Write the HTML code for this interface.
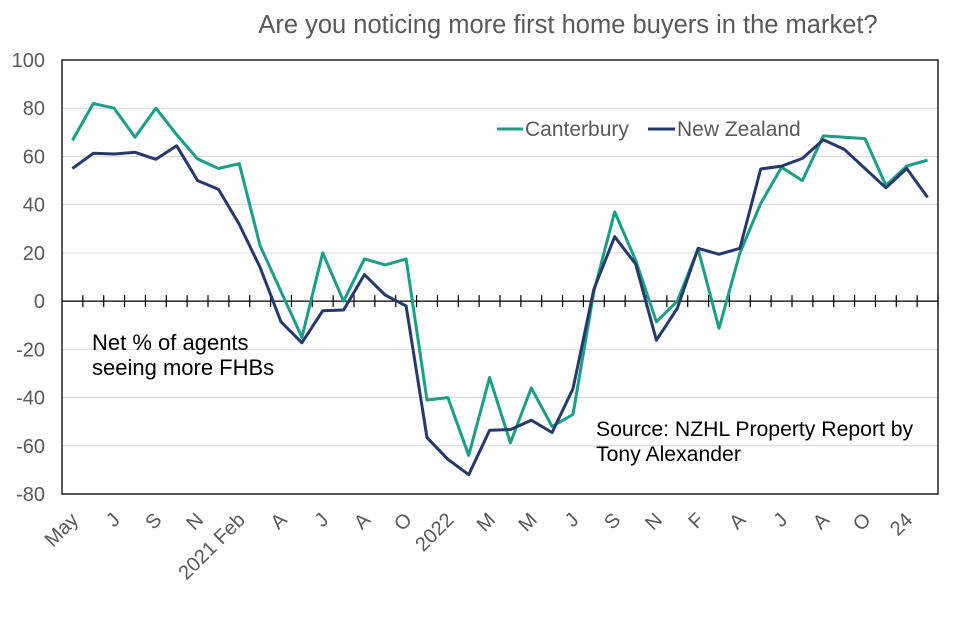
<!DOCTYPE html>
<html><head><meta charset="utf-8"><style>
body{margin:0;background:#fff;}
svg{display:block;font-family:"Liberation Sans",Arial,sans-serif;}
</style></head><body>
<svg id="chart" width="976" height="637">
<text x="568" y="33" text-anchor="middle" font-size="25.5" fill="#595959">Are you noticing more first home buyers in the market?</text>
<g id="grid"></g><g id="axes"></g><g id="series"></g>
<g>
<line x1="497" y1="129" x2="523" y2="129" stroke="#1a9e86" stroke-width="3"/>
<text x="525" y="136" font-size="21" fill="#595959">Canterbury</text>
<line x1="648" y1="129" x2="675" y2="129" stroke="#253a6b" stroke-width="3"/>
<text x="677" y="136" font-size="21" fill="#595959">New Zealand</text>
</g>
<text font-size="22" fill="#000"><tspan x="92" y="350">Net % of agents</tspan><tspan x="92" y="375">seeing more FHBs</tspan></text>
<text font-size="21.2" fill="#000"><tspan x="596" y="436">Source: NZHL Property Report by</tspan><tspan x="596" y="461">Tony Alexander</tspan></text>
</svg>
<script>
const categories = ["May","Jun","J","Aug","S","Oct","N","Dec","2021 Feb","Mar","A","May","J","Jul","A","Sep","O","Nov","2022","Feb","M","Apr","M","Jun","J","Aug","S","Oct","N","Dec","F","Mar","A","May","J","Jul","A","Sep","O","Nov","24","Feb"];
const tickLabels = ["May","","J","","S","","N","","2021 Feb","","A","","J","","A","","O","","2022","","M","","M","","J","","S","","N","","F","","A","","J","","A","","O","","24",""];
const canterbury = [66.6,82,80,68,80,69,59,55,57,23,4,-15,20,0,17.5,15,17.5,-41,-40,-64,-31.7,-58.8,-36,-52,-47,4,37,17,-8.6,0,21.6,-11.3,20,40.5,55.5,50,68.5,68,67.4,48,56,58.5];
const newZealand = [55,61.3,61,61.7,58.8,64.4,50,46.4,31.8,14,-8.6,-17.3,-4,-3.7,11,2.5,-2,-56.6,-65.6,-72,-53.6,-53.3,-49.4,-54.5,-36.3,5,26.7,15.4,-16.2,-3,21.9,19.4,21.9,54.8,56,59.2,66.9,63,55,47,55,43];
const yTicks = [100,80,60,40,20,0,-20,-40,-60,-80];

const NS="http://www.w3.org/2000/svg";
const L=62,R=938,T=60,B=494,yMin=-80,yMax=100;
const bw=(R-L)/categories.length;
const xPos=i=>L+bw*(i+0.5);
const yPos=v=>T+(yMax-v)/(yMax-yMin)*(B-T);
function mk(tag,attrs,parent){const e=document.createElementNS(NS,tag);for(const k in attrs)e.setAttribute(k,attrs[k]);parent.appendChild(e);return e;}
const grid=document.getElementById('grid'),axes=document.getElementById('axes'),ser=document.getElementById('series');
yTicks.forEach(v=>{
  const g=mk('line',{x1:L,x2:R,y1:yPos(v),y2:yPos(v),stroke:'#d9d9d9','stroke-width':1},grid);
  
  
  const t=mk('text',{x:45,y:yPos(v)+7,'text-anchor':'end','font-size':20,fill:'#595959'},axes);
  t.textContent=v;
  
  
});
const frame=mk('rect',{x:L,y:T,width:R-L,height:B-T,fill:'none',stroke:'#000','stroke-width':1.3},axes);


const z=mk('line',{x1:L,x2:R,y1:yPos(0),y2:yPos(0),stroke:'#000','stroke-width':1.3},axes);


for(let i=1;i<=categories.length;i++){
  const x=L+bw*i;
  const tk=mk('line',{x1:x,x2:x,y1:yPos(0)-6,y2:yPos(0)+6,stroke:'#000','stroke-width':1.2},axes);
  
  
}
tickLabels.forEach((lab,i)=>{
  if(!lab)return;
  const x=xPos(i)+7,y=521;
  const t=mk('text',{x:x,y:y,'text-anchor':'end','font-size':20,fill:'#595959',transform:`rotate(-45 ${x} ${y})`},axes);
  t.textContent=lab;
  
  
});
function line(vals,color,name){
  const d=vals.map((v,i)=>(i?'L':'M')+xPos(i).toFixed(1)+','+yPos(v).toFixed(1)).join('');
  const p=mk('path',{d:d,fill:'none',stroke:color,'stroke-width':3,'stroke-linejoin':'round'},ser);
  
  
}
line(canterbury,'#1a9e86','canterbury-line');
line(newZealand,'#253a6b','new-zealand-line');
</script>
</body></html>
